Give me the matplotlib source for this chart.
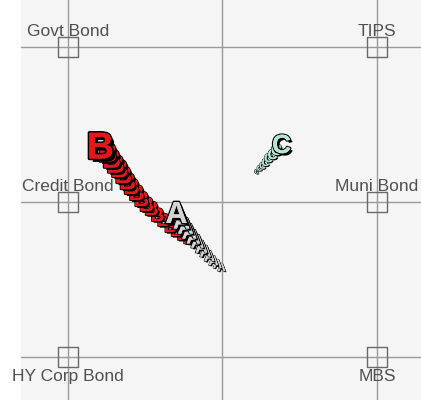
import matplotlib
matplotlib.use("Agg")
import matplotlib.pyplot as plt
import matplotlib.patheffects as pe
import numpy as np

# ---- data ----
anchor_names = ["Govt Bond", "TIPS", "Credit Bond", "Muni Bond", "HY Corp Bond", "MBS"]
anchor_x = [-1, 1, -1, 1, -1, 1]
anchor_y = [1, 1, 0, 0, -1, -1]

series_labels = ["B", "A", "C"]
# trails ordered from newest (head) to oldest (tail)
b_x = [-0.790, -0.744, -0.718, -0.693, -0.667, -0.641, -0.615, -0.589, -0.557,
       -0.524, -0.492, -0.460, -0.421, -0.382, -0.337, -0.298, -0.259, -0.220]
b_y = [0.345, 0.306, 0.267, 0.235, 0.203, 0.164, 0.125, 0.087, 0.048,
       0.009, -0.023, -0.055, -0.094, -0.126, -0.165, -0.191, -0.216, -0.242]
a_x = [-0.298, -0.265, -0.239, -0.214, -0.188, -0.162, -0.136, -0.110, -0.084,
       -0.058, -0.032, -0.006]
a_y = [-0.084, -0.129, -0.168, -0.200, -0.232, -0.265, -0.297, -0.323, -0.355,
       -0.381, -0.406, -0.426]
c_x = [0.382, 0.350, 0.324, 0.298, 0.278, 0.259, 0.239, 0.220]
c_y = [0.361, 0.329, 0.303, 0.277, 0.252, 0.232, 0.213, 0.194]

# ---- figure ----
W, H = 421, 405
fig = plt.figure(figsize=(W / 100, H / 100), dpi=100)
ax = fig.add_axes([21 / W, 5 / H, 400 / W, 400 / H])
ax.set_facecolor("#f5f5f5")
ax.set_xlim(-1.304, 1.285)
ax.set_ylim(-1.277, 1.303)
for s in ax.spines.values():
    s.set_visible(False)
ax.set_xticks([])
ax.set_yticks([])

grid_col = "#9a9a9a"
for v in [-1, 0, 1]:
    ax.axvline(v, color=grid_col, lw=1.0, zorder=1)
    ax.axhline(v, color=grid_col, lw=1.0, zorder=1)

# anchors
ax.scatter(anchor_x, anchor_y, marker="s", s=200, facecolors="none",
           edgecolors="#6a6a6a", linewidths=1.0, zorder=2)
for name, x, y in zip(anchor_names, anchor_x, anchor_y):
    if y > -1:
        ax.annotate(name, (x, y), xytext=(0, 8), textcoords="offset points",
                    ha="center", va="baseline", fontsize=12.5, color="#505050",
                    family="Liberation Sans", zorder=3)
    else:
        ax.annotate(name, (x, y), xytext=(0, -8.5), textcoords="offset points",
                    ha="center", va="top", fontsize=12.5, color="#505050",
                    family="Liberation Sans", zorder=3)

# trails: (x, y, letter, fill, head size, trail start size, trail end size)
trail_styles = [
    (b_x, b_y, "B", "#e8161b", 27, 19, 11),
    (a_x, a_y, "A", "#d4d4d4", 22, 17, 8),
    (c_x, c_y, "C", "#b5e8d2", 19, 11, 4),
]
z = 5
for xs, ys, lab, col, shead, s0, s1 in trail_styles:
    n = len(xs)
    sizes = np.concatenate([[shead], np.linspace(s0, s1, n - 1)])
    for i in range(n - 1, -1, -1):
        fs = sizes[i]
        lw = max(0.8, fs * 0.09)
        off = max(0.8, fs * 0.09)
        ax.text(xs[i], ys[i], lab, fontsize=fs, color=col, fontweight="bold",
                family="Liberation Sans", ha="center", va="center", zorder=z,
                path_effects=[
                    pe.SimplePatchShadow(offset=(off, -off), shadow_rgbFace="black",
                                         alpha=1.0),
                    pe.withStroke(linewidth=lw, foreground="black"),
                    pe.Normal()])
        z += 0.01

fig.savefig("out.png", dpi=100, facecolor="white")
